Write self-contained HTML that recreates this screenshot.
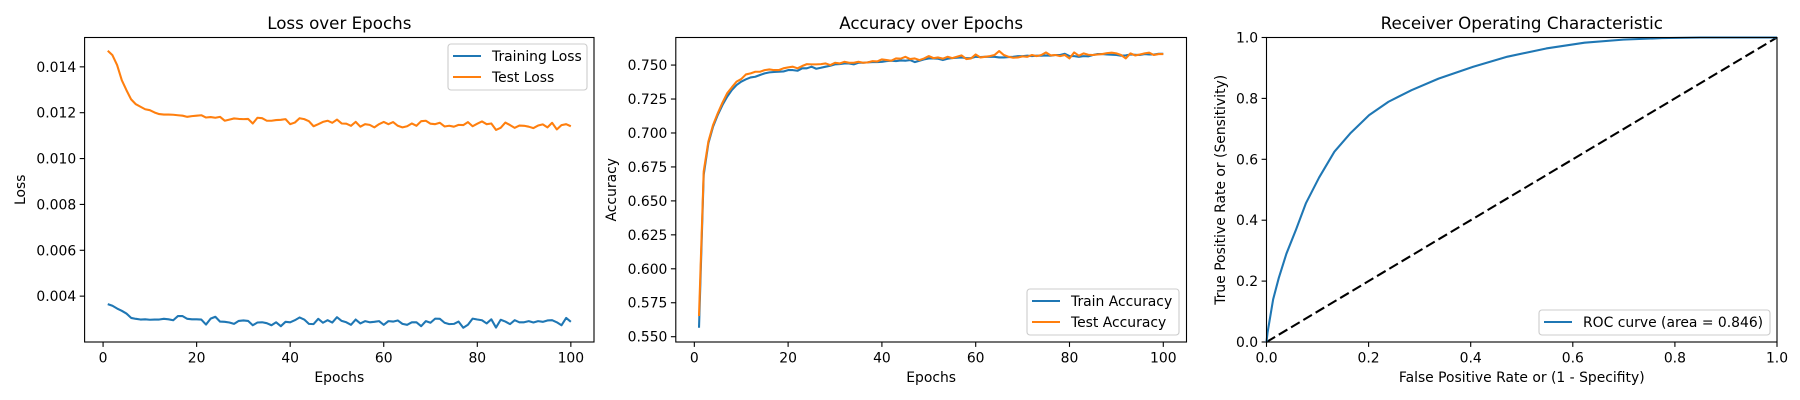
<!DOCTYPE html>
<html><head><meta charset="utf-8"><style>
html,body{margin:0;padding:0;background:#fff;}
svg{display:block;font-family:"DejaVu Sans","Liberation Sans",sans-serif;}
</style></head><body>
<svg id="fig" width="1800" height="400" viewBox="0 0 1800 400" xmlns="http://www.w3.org/2000/svg"></svg>
<script>
// ---------- data ----------
const epochs = Array.from({length:100},(_,i)=>i+1);
const lossTicks = [0.004,0.006,0.008,0.010,0.012,0.014];
const lossTickLabels = ["0.004","0.006","0.008","0.010","0.012","0.014"];
const epochTicks = [0,20,40,60,80,100];
const epochTickLabels = ["0","20","40","60","80","100"];
const accTicks = [0.550,0.575,0.600,0.625,0.650,0.675,0.700,0.725,0.750];
const accTickLabels = ["0.550","0.575","0.600","0.625","0.650","0.675","0.700","0.725","0.750"];
const rocTicks = [0,0.2,0.4,0.6,0.8,1.0];
const rocTickLabels = ["0.0","0.2","0.4","0.6","0.8","1.0"];

const testLoss = [1470,1451,1408,1342,1298,1258,1237,1226,1215,1211,1201,1194,1192,1192,1191,1189,1187,1182,1185,1187,
1189,1179,1181,1178,1182,1165,1170,1175,1173,1172,1173,1153,1178,1176,1165,1165,1168,1169,1172,1150,
1157,1176,1172,1163,1141,1150,1160,1165,1156,1170,1153,1152,1143,1160,1139,1150,1147,1136,1150,1160,
1150,1159,1143,1136,1141,1153,1143,1163,1165,1152,1150,1156,1140,1143,1139,1147,1146,1159,1141,1152,
1162,1150,1153,1125,1134,1157,1146,1134,1144,1143,1139,1133,1144,1149,1136,1156,1127,1146,1150,1141].map(v=>v/1e5);
const trainLoss = [365,358,346,336,324,305,301,298,299,297,298,298,301,299,295,313,313,301,299,299,
298,276,302,310,289,288,285,279,292,294,292,273,285,286,282,273,286,269,288,286,
295,307,298,279,278,301,284,295,285,308,292,286,275,298,281,291,286,288,291,275,
291,289,294,279,275,286,286,269,291,284,302,301,284,278,279,289,262,275,302,298,
295,281,299,263,297,289,278,295,286,286,291,285,291,288,294,295,286,273,305,288].map(v=>v/1e5);
const trainAcc = [0.5566,0.6692,0.6925,0.7047,0.7133,0.7206,0.7267,0.7316,0.7353,0.7378,
0.7395,0.7409,0.7414,0.7427,0.7439,0.7446,0.7449,0.7451,0.7453,0.7463,
0.7463,0.7458,0.7476,0.7476,0.7488,0.7473,0.7480,0.7488,0.7495,0.7505,
0.7507,0.7512,0.7512,0.7505,0.7517,0.7517,0.7520,0.7522,0.7522,0.7524,
0.7529,0.7532,0.7529,0.7534,0.7532,0.7537,0.7522,0.7532,0.7542,0.7549,
0.7549,0.7547,0.7537,0.7547,0.7551,0.7554,0.7556,0.7551,0.7551,0.7561,
0.7559,0.7561,0.7561,0.7561,0.7556,0.7556,0.7559,0.7561,0.7566,0.7566,
0.7569,0.7566,0.7569,0.7569,0.7571,0.7569,0.7574,0.7574,0.7583,0.7566,
0.7566,0.7561,0.7566,0.7564,0.7574,0.7581,0.7581,0.7578,0.7576,0.7574,
0.7569,0.7571,0.7578,0.7576,0.7574,0.7581,0.7578,0.7578,0.7583,0.7583];
const testAcc = [0.5652,0.6717,0.6937,0.7059,0.7145,0.7223,0.7292,0.7336,0.7378,0.7397,
0.7431,0.7439,0.7451,0.7451,0.7463,0.7468,0.7463,0.7463,0.7476,0.7483,
0.7488,0.7476,0.7493,0.7507,0.7505,0.7505,0.7507,0.7512,0.7500,0.7517,
0.7512,0.7524,0.7517,0.7517,0.7524,0.7517,0.7520,0.7529,0.7527,0.7542,
0.7537,0.7532,0.7549,0.7547,0.7561,0.7544,0.7549,0.7537,0.7549,0.7566,
0.7551,0.7556,0.7547,0.7561,0.7551,0.7561,0.7571,0.7544,0.7549,0.7578,
0.7556,0.7561,0.7566,0.7574,0.7603,0.7574,0.7561,0.7554,0.7556,0.7564,
0.7561,0.7574,0.7566,0.7574,0.7593,0.7571,0.7574,0.7566,0.7574,0.7549,
0.7593,0.7569,0.7586,0.7576,0.7574,0.7578,0.7581,0.7588,0.7591,0.7586,
0.7574,0.7549,0.7586,0.7571,0.7578,0.7586,0.7591,0.7574,0.7581,0.7581];
const rocFpr = [0,0.002,0.005,0.013,0.024,0.039,0.058,0.077,0.103,0.133,0.164,0.201,0.239,0.284,0.337,0.405,0.472,0.548,0.623,0.699,0.774,0.85,1.0];
const rocTpr = [0,0.03,0.06,0.14,0.21,0.29,0.37,0.455,0.54,0.625,0.685,0.745,0.789,0.827,0.865,0.904,0.937,0.964,0.983,0.993,0.998,1.0,1.0];
const chanceX = [0,1];
const chanceY = [0,1];

// ---------- drawing helpers ----------
const NS="http://www.w3.org/2000/svg";
const svg=document.getElementById('fig');
function el(tag,attrs,parent,text){
  const e=document.createElementNS(NS,tag);
  for(const k in attrs)e.setAttribute(k,attrs[k]);
  if(text!==undefined)e.textContent=text;
  (parent||svg).appendChild(e);return e;
}
function makeAxes(cfg){
  const g=el('g',{});
  
  
  const sx=v=>cfg.L+(v-cfg.xmin)/(cfg.xmax-cfg.xmin)*(cfg.R-cfg.L);
  const sy=v=>cfg.B-(v-cfg.ymin)/(cfg.ymax-cfg.ymin)*(cfg.B-cfg.T);
  const t=el('text',{x:(cfg.L+cfg.R)/2,y:29,'text-anchor':'middle','font-size':'16.7px',fill:'#000'},g,cfg.title);
  
  
  cfg.xt.forEach((v,i)=>{
    const x=sx(v);
    el('line',{x1:x,x2:x,y1:cfg.B,y2:cfg.B+4.9,stroke:'#000','stroke-width':1.1},g);
    const tl=el('text',{x:x,y:cfg.B+20.5,'text-anchor':'middle','font-size':'13.9px'},g,cfg.xl[i]);
    
    
  });
  cfg.yt.forEach((v,i)=>{
    const y=sy(v);
    el('line',{x1:cfg.L-4.9,x2:cfg.L,y1:y,y2:y,stroke:'#000','stroke-width':1.1},g);
    const tl=el('text',{x:cfg.L-8.4,y:y+5,'text-anchor':'end','font-size':'13.9px'},g,cfg.yl[i]);
    
    
  });
  const xl=el('text',{x:(cfg.L+cfg.R)/2,y:382,'text-anchor':'middle','font-size':'13.9px'},g,cfg.xlabel);
  
  
  const yc=(cfg.T+cfg.B)/2;
  const yl=el('text',{x:cfg.ylx,y:yc,'text-anchor':'middle','font-size':'13.9px',transform:`rotate(-90 ${cfg.ylx} ${yc})`},g,cfg.ylabel);
  
  
  return {g,sx,sy};
}
function series(ax,xs,ys,color,name,dash){
  const d=xs.map((x,i)=>(i?'L':'M')+ax.sx(x).toFixed(2)+' '+ax.sy(ys[i]).toFixed(2)).join(' ');
  const p=el('path',{d:d,fill:'none',stroke:color,'stroke-width':2.08,'stroke-linejoin':'round','stroke-linecap':'butt'},ax.g);
  if(dash)p.setAttribute('stroke-dasharray',dash);
  
  
}
function frame(ax,cfg){
  el('rect',{x:cfg.L,y:cfg.T,width:cfg.R-cfg.L,height:cfg.B-cfg.T,fill:'none',stroke:'#000','stroke-width':1.1},ax.g);
}
function legend(ax,box,entries){
  const lg=el('g',{},ax.g);
  
  
  el('rect',{x:box.x,y:box.y,width:box.w,height:box.h,rx:3,fill:'#fff','fill-opacity':0.8,stroke:'#ccc','stroke-width':1.1},lg);
  entries.forEach((e,i)=>{
    const y=box.y+12+i*21;
    const en=el('g',{},lg);
    
    
    el('line',{x1:box.x+5,x2:box.x+33,y1:y,y2:y,stroke:e.c,'stroke-width':2.08},en);
    el('text',{x:box.x+44,y:y+5,'font-size':'13.9px'},en,e.t);
  });
}

// ---------- panel 1: loss ----------
const c1={name:'loss-chart',L:84.6,R:594,T:37.5,B:342,xmin:-3.95,xmax:104.95,ymin:0.0020,ymax:0.01528,
  xt:epochTicks,xl:epochTickLabels,yt:lossTicks,yl:lossTickLabels,title:'Loss over Epochs',xlabel:'Epochs',ylabel:'Loss',ylx:25};
const a1=makeAxes(c1);
series(a1,epochs,trainLoss,'#1f77b4','training-loss-line');
series(a1,epochs,testLoss,'#ff7f0e','test-loss-line');
frame(a1,c1);
legend(a1,{x:448,y:44,w:139,h:46},[{c:'#1f77b4',t:'Training Loss'},{c:'#ff7f0e',t:'Test Loss'}]);

// ---------- panel 2: accuracy ----------
const c2={name:'accuracy-chart',L:675.8,R:1186.5,T:37.5,B:342,xmin:-3.95,xmax:104.95,ymin:0.5461,ymax:0.7703,
  xt:epochTicks,xl:epochTickLabels,yt:accTicks,yl:accTickLabels,title:'Accuracy over Epochs',xlabel:'Epochs',ylabel:'Accuracy',ylx:616};
const a2=makeAxes(c2);
series(a2,epochs,trainAcc,'#1f77b4','train-accuracy-line');
series(a2,epochs,testAcc,'#ff7f0e','test-accuracy-line');
frame(a2,c2);
legend(a2,{x:1027,y:289,w:152,h:46},[{c:'#1f77b4',t:'Train Accuracy'},{c:'#ff7f0e',t:'Test Accuracy'}]);

// ---------- panel 3: ROC ----------
const c3={name:'roc-chart',L:1266.5,R:1777,T:37.5,B:342,xmin:0,xmax:1,ymin:0,ymax:1,
  xt:rocTicks,xl:rocTickLabels,yt:rocTicks,yl:rocTickLabels,title:'Receiver Operating Characteristic',
  xlabel:'False Positive Rate or (1 - Specifity)',ylabel:'True Positive Rate or (Sensitivity)',ylx:1225};
const a3=makeAxes(c3);
series(a3,chanceX,chanceY,'#000','chance-diagonal-line','10,4.3');
series(a3,rocFpr,rocTpr,'#1f77b4','roc-curve-line');
frame(a3,c3);
legend(a3,{x:1539,y:310,w:231,h:25},[{c:'#1f77b4',t:'ROC curve (area = 0.846)'}]);
</script>
</body></html>
